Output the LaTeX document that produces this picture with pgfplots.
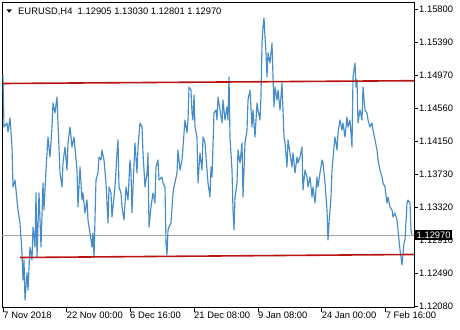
\documentclass[border=0pt]{standalone}
\usepackage{pgfplots}
\pgfplotsset{compat=1.18}
\usepackage{fontspec}
\setmainfont{Liberation Sans}
\definecolor{mtblue}{RGB}{70,140,200}
\definecolor{mtred}{RGB}{185,20,20}
\definecolor{mtgray}{RGB}{165,165,165}
\begin{document}
\begin{tikzpicture}[x=1bp,y=1bp,font=\fontsize{9.4bp}{11bp}\selectfont]
\begin{axis}[
  at={(2bp,22.5bp)}, anchor=south west,
  scale only axis, width=412bp, height=305.5bp,
  xmin=2, xmax=414, ymin=1.12061, ymax=1.15892,
  axis line style={black, line width=0.8bp},
  tick style={black, line width=0.8bp},
  tick align=outside, major tick length=4bp,
  xtick pos=left, ytick pos=right, yticklabel pos=right,
  xtick={3.3,66.7,130,194,258,321.7,385.7},
  xticklabels={7 Nov 2018,22 Nov 00:00,6 Dec 16:00,21 Dec 08:00,9 Jan 08:00,24 Jan 00:00,7 Feb 16:00},
  ytick={1.158,1.1539,1.1497,1.1456,1.1415,1.1373,1.1332,1.1291,1.1249,1.1208},
  yticklabels={1.15800,1.15390,1.14970,1.14560,1.14150,1.13730,1.13320,1.12910,1.12490,1.12080},
  xticklabel style={anchor=north west, inner sep=0pt},
  yticklabel style={anchor=west, inner sep=0pt, xshift=1bp},
  clip=true,
]
\addplot[mtgray, line width=0.6bp] coordinates {(2,1.12970) (414,1.12970)};
\addplot[mtblue, line width=1.15bp, line join=round] coordinates {
(3,1.14976) (4,1.14324) (7,1.14375) (8,1.14262) (10,1.14437) (12,1.14074) (13,1.13572) (15,1.13660)
(17,1.13409) (18,1.13284) (20,1.13121) (22,1.12744) (23,1.12406) (24,1.12657) (25,1.12155) (27,1.12494)
(28,1.12280) (30,1.12820) (32,1.12657) (33,1.13070) (35,1.12820) (36,1.13497) (37,1.12694) (39,1.13497)
(41,1.12820) (43,1.13622) (44,1.13284) (46,1.13785) (48,1.14199) (50,1.13948) (52,1.14324) (53,1.14625)
(55,1.14500) (57,1.14701) (58,1.14375) (60,1.13748) (62,1.13572) (63,1.13873) (65,1.14074) (67,1.13785)
(68,1.14124) (70,1.14324) (72,1.14074) (74,1.14199) (77,1.13785) (78,1.13321) (80,1.13823) (82,1.13409)
(83,1.13497) (85,1.13246) (87,1.13409) (88,1.13158) (90,1.12995) (92,1.12820) (93,1.12995) (94,1.12682)
(96,1.13660) (98,1.13748) (99,1.13948) (101,1.13911) (102,1.14036) (104,1.13911) (106,1.13622) (108,1.13121)
(109,1.13572) (111,1.13497) (112,1.13196) (115,1.13572) (117,1.13998) (118,1.14161) (119,1.13572) (121,1.13497)
(122,1.13321) (124,1.13158) (126,1.13572) (128,1.13409) (130,1.13911) (131,1.13748) (132,1.13246) (133,1.13572)
(135,1.14124) (137,1.13748) (138,1.14074) (140,1.14375) (142,1.14324) (143,1.13998) (145,1.13572) (147,1.13748)
(148,1.13998) (149,1.13070) (151,1.13321) (153,1.13497) (155,1.13371) (156,1.13823) (158,1.13911) (159,1.13660)
(162,1.13697) (163,1.13622) (165,1.13572) (166,1.12870) (167,1.12719) (168,1.13033) (169,1.13070) (171,1.13121)
(173,1.13497) (174,1.13572) (177,1.13748) (178,1.14036) (180,1.13785) (182,1.13911) (183,1.14074) (185,1.14412)
(187,1.14249) (188,1.14412) (189,1.14826) (191,1.14788) (192,1.14500) (193,1.14412) (194,1.14726) (195,1.14324)
(197,1.14199) (198,1.13622) (200,1.13998) (202,1.13785) (203,1.14199) (205,1.14124) (207,1.13785) (208,1.13622)
(210,1.13447) (211,1.13823) (212,1.13697) (214,1.14500) (216,1.14538) (217,1.14412) (218,1.14701) (220,1.14538)
(222,1.14375) (223,1.14663) (225,1.14412) (227,1.14575) (228,1.14412) (229,1.14951) (230,1.14199) (232,1.13785)
(233,1.13284) (234,1.13033) (235,1.13447) (237,1.13622) (238,1.14036) (240,1.13873) (242,1.14124) (243,1.13447)
(245,1.14124) (247,1.14287) (248,1.14663) (250,1.14788) (252,1.14324) (253,1.14538) (255,1.14199) (257,1.14625)
(258,1.14538) (260,1.14412) (261,1.14726) (262,1.15378) (263,1.15578) (264,1.15691) (265,1.15453) (266,1.15252)
(267,1.14951) (268,1.15252) (270,1.15127) (272,1.15378) (273,1.14951) (274,1.14575) (275,1.14826) (277,1.14663)
(278,1.14788) (280,1.14538) (282,1.14876) (283,1.14538) (284,1.14199) (285,1.14124) (287,1.13823) (288,1.14161)
(290,1.13998) (292,1.13823) (293,1.13998) (295,1.13748) (297,1.13948) (298,1.13873) (300,1.13948) (302,1.14074)
(303,1.13534) (305,1.13785) (307,1.13697) (308,1.13572) (310,1.13697) (312,1.13447) (313,1.13572) (315,1.13371)
(317,1.13697) (318,1.13572) (320,1.13748) (322,1.13911) (323,1.13873) (325,1.13622) (327,1.13284) (328,1.12907)
(329,1.13121) (331,1.13447) (332,1.13785) (334,1.14074) (335,1.14199) (337,1.14036) (338,1.14249) (340,1.14412)
(342,1.14287) (343,1.14375) (345,1.14199) (347,1.14450) (348,1.14324) (350,1.14412) (352,1.14074) (353,1.14951)
(354,1.15039) (355,1.15127) (356,1.14826) (357,1.14914) (358,1.14375) (360,1.14538) (362,1.14412) (363,1.14826)
(365,1.14538) (367,1.14500) (368,1.14412) (370,1.14324) (372,1.14375) (373,1.14287) (375,1.14161) (377,1.14036)
(378,1.13911) (380,1.13785) (382,1.13697) (383,1.13622) (385,1.13572) (387,1.13371) (388,1.13447) (390,1.13321)
(392,1.13284) (393,1.13196) (395,1.13246) (397,1.13158) (398,1.13033) (400,1.12782) (401,1.12694) (402,1.12594)
(404,1.12870) (405,1.12907) (407,1.13371) (408,1.13409) (410,1.13371) (411,1.13033) (412,1.12970)
};
\addplot[mtred, line width=1.6bp] coordinates {(3,1.14870) (414,1.14905)};
\addplot[mtred, line width=1.6bp] coordinates {(20,1.12688) (414,1.12726)};
\coordinate (cur) at (axis cs:414,1.12970);
\coordinate (tl) at (rel axis cs:0,1);
\end{axis}
\node[fill=black, text=white, inner xsep=1.5bp, inner ysep=2bp, anchor=west] at ([xshift=1bp]cur) {1.12970};
\node[anchor=north west, inner sep=0pt] at ([xshift=16bp,yshift=-5.3bp]tl) {EURUSD,H4\ \ 1.12905 1.13030 1.12801 1.12970};
\fill[black] (6.5bp,320.7bp) -- (11.9bp,320.7bp) -- (9.2bp,317.2bp) -- cycle;
\pgfresetboundingbox
\path[use as bounding box] (0,0) rectangle (460bp,330bp);
\end{tikzpicture}
\end{document}
